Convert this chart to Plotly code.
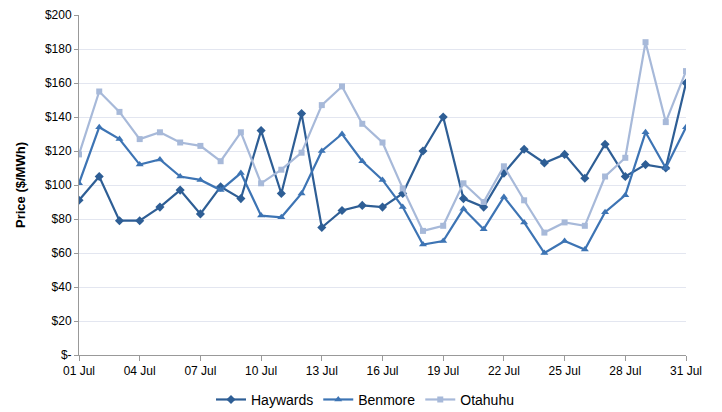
import plotly.graph_objects as go

days = list(range(1, 32))
tick_days = [1, 4, 7, 10, 13, 16, 19, 22, 25, 28, 31]
tick_labels = ["01 Jul", "04 Jul", "07 Jul", "10 Jul", "13 Jul", "16 Jul", "19 Jul",
               "22 Jul", "25 Jul", "28 Jul", "31 Jul"]
y_ticks = [0, 20, 40, 60, 80, 100, 120, 140, 160, 180, 200]
y_labels = ["$-", "$20", "$40", "$60", "$80", "$100", "$120", "$140", "$160", "$180", "$200"]

haywards = [91, 105, 79, 79, 87, 97, 83, 99, 92, 132, 95, 142, 75, 85, 88, 87, 95, 120, 140,
            92, 87, 107, 121, 113, 118, 104, 124, 105, 112, 110, 160]
benmore = [101, 134, 127, 112, 115, 105, 103, 97, 107, 82, 81, 95, 120, 130, 114, 103, 87, 65,
           67, 86, 74, 93, 78, 60, 67, 62, 84, 94, 131, 110, 134]
otahuhu = [118, 155, 143, 127, 131, 125, 123, 114, 131, 101, 109, 119, 147, 158, 136, 125, 98,
           73, 76, 101, 90, 111, 91, 72, 78, 76, 105, 116, 184, 137, 167]

fig = go.Figure()
series = [
    ("Haywards", haywards, "#2E5E95", "diamond", 7),
    ("Benmore", benmore, "#3D74B4", "triangle-up", 7),
    ("Otahuhu", otahuhu, "#A7B9D9", "square", 6),
]
for name, vals, col, sym, sz in series:
    fig.add_trace(go.Scatter(x=days, y=vals, name=name, mode="lines+markers",
                             line=dict(color=col, width=2.2),
                             marker=dict(symbol=sym, size=sz, color=col)))

fig.update_layout(
    width=714, height=404,
    margin=dict(l=71, r=36, t=7, b=57, autoexpand=False),
    paper_bgcolor="white", plot_bgcolor="white",
    font=dict(family="Liberation Sans, Arial, sans-serif", size=12, color="#000000"),
    showlegend=True,
    legend=dict(orientation="h", x=0.5, xanchor="center", xref="container",
                y=0.03, yanchor="middle", yref="container",
                font=dict(size=14), traceorder="normal", itemwidth=30),
)
fig.update_xaxes(range=[1, 31], tickvals=tick_days, ticktext=tick_labels,
                 showgrid=False, showline=True, linecolor="#999999", linewidth=1,
                 ticks="outside", ticklen=5, tickcolor="#999999", zeroline=False,
                 ticklabeloverflow="allow")
fig.update_yaxes(range=[0, 200], tickvals=y_ticks, ticktext=y_labels,
                 showgrid=True, gridcolor="#E3E6F0", gridwidth=1,
                 showline=True, linecolor="#999999", linewidth=1,
                 ticks="outside", ticklen=4, tickcolor="#999999", zeroline=False,
                 ticklabeloverflow="allow",
                 title=dict(text="<b>Price ($/MWh)</b>", font=dict(size=13), standoff=16))

fig.write_html("out.html")
